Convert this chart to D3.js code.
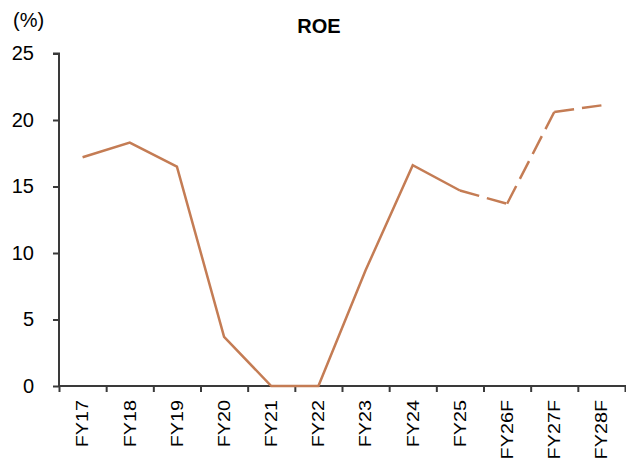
<!DOCTYPE html>
<html>
<head>
<meta charset="utf-8">
<script src="https://cdn.jsdelivr.net/npm/d3@7"></script>
<style>
  html, body { margin: 0; padding: 0; background: #fff; }
  svg { display: block; font-family: "Liberation Sans", Arial, sans-serif; }
</style>
</head>
<body>
<svg id="chart" width="626" height="459"></svg>
<script>
const categories = ["FY17","FY18","FY19","FY20","FY21","FY22","FY23","FY24","FY25","FY26F","FY27F","FY28F"];
const roe = [17.2, 18.3, 16.5, 3.7, 0, 0, 8.7, 16.6, 14.7, 13.7, 20.6, 21.1];
const firstForecastIndex = 9; // FY26F onward dashed
const yTicks = [0, 5, 10, 15, 20, 25];
const title = "ROE";
const unitLabel = "(%)";

const svg = d3.select("#chart");
const lineColor = "#C47C54";
const axisColor = "#3a3a3a";

const x = d3.scaleBand().domain(categories).range([59, 625]).padding(0);
const y = d3.scaleLinear().domain([0, 25]).range([386, 53.5]);
const cx = d => x(d) + x.bandwidth() / 2;

// Title and unit
svg.append("text").attr("x", 319).attr("y", 33).attr("text-anchor", "middle")
  .attr("font-size", 20).attr("font-weight", "bold").attr("fill", "#000").text(title);
svg.append("text").attr("x", 13).attr("y", 27).attr("font-size", 20).attr("fill", "#000").text(unitLabel);

// Y axis
const yAxis = d3.axisLeft(y).tickValues(yTicks).tickSize(6).tickPadding(19).tickFormat(d3.format("d"));
const gy = svg.append("g").attr("transform", "translate(59,0)").call(yAxis);
gy.select(".domain").attr("stroke", axisColor).attr("stroke-width", 2).attr("d", `M-6,${y(25)}H0V${y(0)}`);
gy.selectAll(".tick line").attr("stroke", axisColor).attr("stroke-width", 2);
gy.selectAll(".tick text").attr("font-size", 20).attr("fill", "#000")
  .attr("font-family", "Liberation Sans, Arial, sans-serif");

// X axis: boundary ticks + centered rotated labels
const bScale = d3.scaleLinear().domain([0, categories.length]).range(x.range());
const xAxis = d3.axisBottom(bScale).tickValues(d3.range(categories.length + 1)).tickSize(6).tickFormat("");
const gx = svg.append("g").attr("transform", `translate(0,${y(0)})`).call(xAxis);
gx.select(".domain").attr("stroke", axisColor).attr("stroke-width", 2).attr("d", `M59,0H626`);
gx.selectAll(".tick line").attr("stroke", axisColor).attr("stroke-width", 2);

svg.append("g").selectAll("text").data(categories).join("text")
  .attr("transform", d => `translate(${cx(d)},${y(0) + 14}) rotate(-90) scale(1.2,1)`)
  .attr("text-anchor", "end").attr("dy", "0.35em")
  .attr("font-size", 16.5).attr("fill", "#000").text(d => d);

// Line
const pts = categories.map((c, i) => ({ c, v: roe[i], i }));
const line = d3.line().x(d => cx(d.c)).y(d => y(d.v));
svg.append("path").datum(pts.slice(0, firstForecastIndex))
  .attr("d", line).attr("fill", "none").attr("stroke", lineColor)
  .attr("stroke-width", 2.5).attr("stroke-linejoin", "miter");
for (let i = firstForecastIndex - 1; i < pts.length - 1; i++) {
  svg.append("path").datum([pts[i], pts[i + 1]])
    .attr("d", line).attr("fill", "none").attr("stroke", lineColor)
    .attr("stroke-width", 2.5).attr("stroke-dasharray", "20,8");
}
</script>
</body>
</html>
